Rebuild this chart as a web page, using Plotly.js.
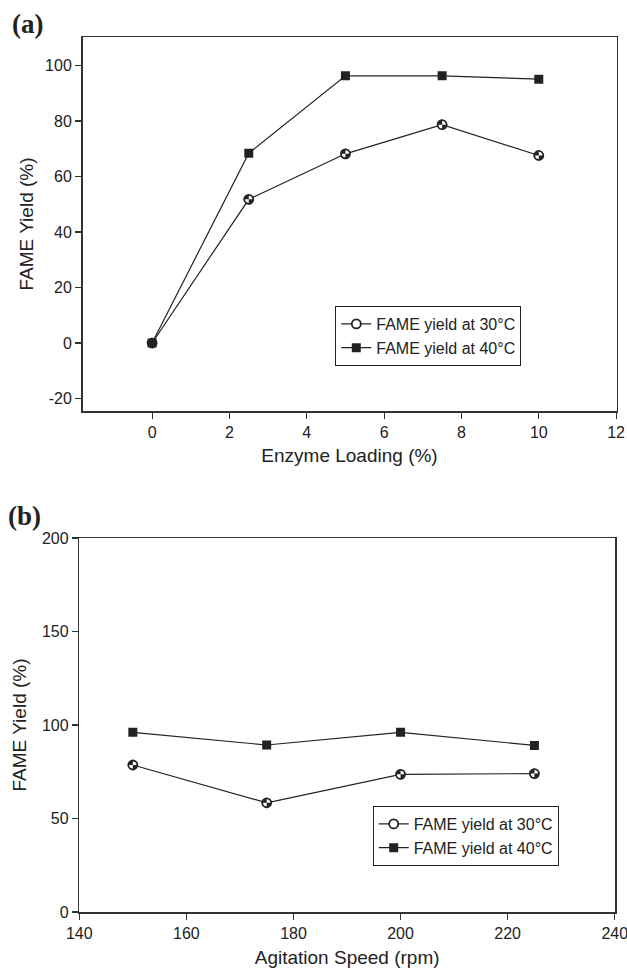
<!DOCTYPE html>
<html>
<head>
<meta charset="utf-8">
<script src="https://cdn.plot.ly/plotly-3.0.1.min.js"></script>
<style>html,body{margin:0;padding:0;background:#fff;}#chart{width:627px;height:971px;}</style>
</head>
<body>
<div id="chart"></div>
<script>
// Panel (a)
const enzymeLoading = [0, 2.5, 5, 7.5, 10];
const yieldA30 = [0, 51.8, 68.2, 78.7, 67.6];
const yieldA40 = [0, 68.4, 96.3, 96.3, 95.1];
const yTickValsA = [-20, 0, 20, 40, 60, 80, 100];
const yTickTextA = ["-20", "0", "20", "40", "60", "80", "100"];
// Panel (b)
const agitationSpeed = [150, 175, 200, 225];
const yieldB30 = [78.6, 58.4, 73.6, 74.0];
const yieldB40 = [96.1, 89.3, 96.1, 89.1];

const seriesNames = ["FAME yield at 30°C", "FAME yield at 40°C"];
const xTitleA = "Enzyme Loading (%)";
const xTitleB = "Agitation Speed (rpm)";
const yTitle = "FAME Yield (%)";

const FONT = "Liberation Sans, Arial, sans-serif";
const INK = "#222";

function circTrace(x, y, xa, ya, lg) {
  return {x: x, y: y, xaxis: xa, yaxis: ya, legend: lg, type: "scatter", mode: "lines+markers",
    name: seriesNames[0], line: {color: INK, width: 1.2},
    marker: {symbol: "circle", size: 9, color: "#fff", line: {color: INK, width: 1.8}}};
}
function overlayTrace(x, y, xa, ya) {
  return {x: x, y: y, xaxis: xa, yaxis: ya, type: "scatter", mode: "markers", showlegend: false,
    hoverinfo: "skip",
    marker: {symbol: "bowtie", angle: 45, size: 8, color: INK, line: {width: 0}}};
}
function sqTrace(x, y, xa, ya, lg) {
  return {x: x, y: y, xaxis: xa, yaxis: ya, legend: lg, type: "scatter", mode: "lines+markers",
    name: seriesNames[1], line: {color: INK, width: 1.2},
    marker: {symbol: "square", size: 9, color: INK, line: {width: 0}}};
}

const traces = [
  circTrace(enzymeLoading, yieldA30, "x", "y", "legend"),
  sqTrace(enzymeLoading, yieldA40, "x", "y", "legend"),
  overlayTrace(enzymeLoading, yieldA30, "x", "y"),
  circTrace(agitationSpeed, yieldB30, "x2", "y2", "legend2"),
  sqTrace(agitationSpeed, yieldB40, "x2", "y2", "legend2"),
  overlayTrace(agitationSpeed, yieldB30, "x2", "y2")
];

const W = 627, H = 971;
const px = v => v / W;
const py = v => 1 - v / H;

const axisBase = {
  showline: true, linecolor: "#333", linewidth: 1.5, mirror: true,
  ticks: "outside", ticklen: 6, tickwidth: 1.2, tickcolor: "#333",
  showgrid: false, zeroline: false, automargin: false,
  ticklabeloverflow: "allow",
  tickfont: {family: FONT, size: 16, color: INK}
};

const layout = {
  width: W, height: H,
  margin: {l: 0, r: 0, t: 0, b: 0},
  paper_bgcolor: "#fff", plot_bgcolor: "#fff",
  font: {family: FONT, color: INK},
  xaxis: Object.assign({}, axisBase, {
    domain: [px(82.5), px(616.5)], anchor: "y",
    range: [-1.8, 12.01], tick0: 0, dtick: 2,
    title: {text: xTitleA, font: {family: FONT, size: 19, color: INK}, standoff: 9}
  }),
  yaxis: Object.assign({}, axisBase, {
    domain: [py(411), py(37)], anchor: "x",
    range: [-24.5, 110.3], tickmode: "array", tickvals: yTickValsA, ticktext: yTickTextA,
    title: {text: yTitle, font: {family: FONT, size: 19, color: INK}, standoff: 6}
  }),
  xaxis2: Object.assign({}, axisBase, {
    domain: [px(79.3), px(615)], anchor: "y2",
    range: [140, 240.05], tick0: 140, dtick: 20,
    title: {text: xTitleB, font: {family: FONT, size: 19, color: INK}, standoff: 10}
  }),
  yaxis2: Object.assign({}, axisBase, {
    domain: [py(912), py(538)], anchor: "x2",
    range: [0, 200], tick0: 0, dtick: 50,
    title: {text: yTitle, font: {family: FONT, size: 19, color: INK}, standoff: 10}
  }),
  legend: {
    x: px(335.3), y: py(306), xanchor: "left", yanchor: "top",
    bgcolor: "#fff", bordercolor: "#222", borderwidth: 1,
    font: {family: FONT, size: 16, color: INK}, tracegroupgap: 0, itemwidth: 30
  },
  legend2: {
    x: px(372.7), y: py(806), xanchor: "left", yanchor: "top",
    bgcolor: "#fff", bordercolor: "#222", borderwidth: 1,
    font: {family: FONT, size: 16, color: INK}, tracegroupgap: 0, itemwidth: 30
  },
  annotations: [
    {text: "<b>(a)</b>", xref: "paper", yref: "paper", x: px(10), y: py(24), xanchor: "left", yanchor: "middle",
     showarrow: false, font: {family: "Liberation Serif, Times New Roman, serif", size: 27, color: INK}},
    {text: "<b>(b)</b>", xref: "paper", yref: "paper", x: px(6), y: py(516), xanchor: "left", yanchor: "middle",
     showarrow: false, font: {family: "Liberation Serif, Times New Roman, serif", size: 27, color: INK}}
  ],
  showlegend: true
};

Plotly.newPlot("chart", traces, layout, {displayModeBar: false, staticPlot: true});
</script>
</body>
</html>
